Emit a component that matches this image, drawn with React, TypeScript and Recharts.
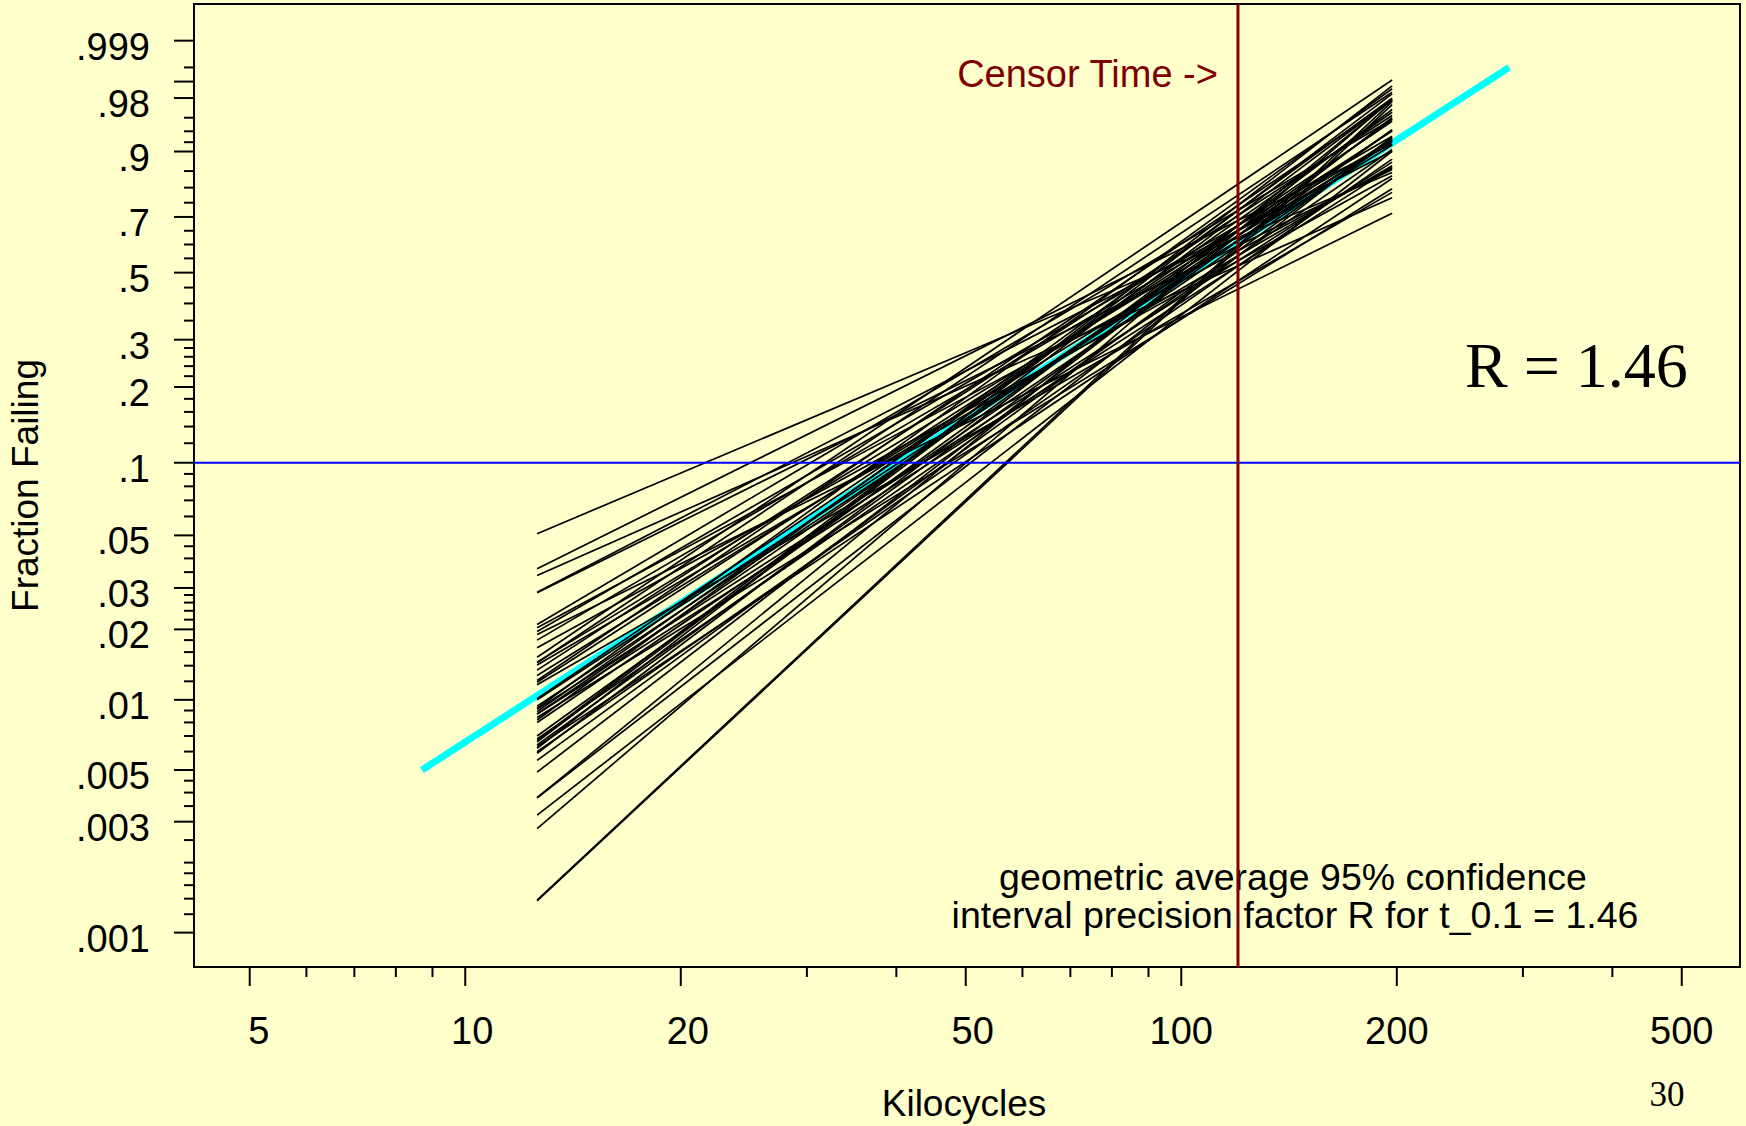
import { Line, LineChart, ReferenceArea, ReferenceLine, XAxis, YAxis } from 'recharts';

const SANS = '"Liberation Sans", Arial, Helvetica, sans-serif';
const SERIF = '"Liberation Serif", "Times New Roman", serif';

// fitted Weibull lines, drawn between first and last failure time (kilocycles)
const fitStartKc = 12.6;
const fitEndKc = 197;
const fitStartFrac = [
  0.0508, 0.0362, 0.0339, 0.0288, 0.0286, 0.021, 0.0203, 0.0196, 0.019, 0.018, 0.0167, 0.0152,
  0.0145, 0.0141, 0.0134, 0.0127, 0.0121, 0.0116, 0.0101, 0.0094, 0.0092, 0.0091, 0.0089, 0.0087,
  0.0084, 0.0082, 0.008, 0.007, 0.0068, 0.0066, 0.0064, 0.0062, 0.006, 0.0059, 0.0055, 0.0049,
  0.0038, 0.0038, 0.0032, 0.0028, 0.00137, 0.00138, 0.0144, 0.0087, 0.0067, 0.01, 0.0119, 0.0063,
];
const fitEndFrac = [
  0.8459, 0.9164, 0.7666, 0.9011, 0.8544, 0.9579, 0.8589, 0.9313, 0.7135, 0.9233, 0.8365, 0.9907,
  0.9207, 0.8647, 0.9627, 0.9141, 0.9777, 0.7847, 0.9552, 0.9273, 0.9863, 0.8742, 0.9665, 0.9417,
  0.7965, 0.9798, 0.9227, 0.9579, 0.9045, 0.9788, 0.9426, 0.9879, 0.8819, 0.9696, 0.9266, 0.96,
  0.9302, 0.9788, 0.9006, 0.9789, 0.9744, 0.9771, 0.9841, 0.8602, 0.983, 0.9252, 0.9403, 0.8285,
];

// average fit (cyan)
const avgFitKc = [8.7, 287];
const avgFitFrac = [0.005, 0.995];

const censorKc = 120;
const targetFrac = 0.1;

const xDomain = [4.18, 603];
const xMajor = [5, 10, 20, 50, 100, 200, 500];
const xMinor = [6, 7, 8, 9, 30, 40, 60, 70, 80, 90, 300, 400];

const yLabeled = [0.001, 0.003, 0.005, 0.01, 0.02, 0.03, 0.05, 0.1, 0.2, 0.3, 0.5, 0.7, 0.9, 0.98, 0.999];
const yLabels = ['.001', '.003', '.005', '.01', '.02', '.03', '.05', '.1', '.2', '.3', '.5', '.7', '.9', '.98', '.999'];
const yLongUnlabeled = [0.99];
const yMinor = [
  0.0012, 0.0014, 0.0016, 0.0018, 0.002, 0.0025, 0.0035, 0.004, 0.0045, 0.006, 0.007, 0.008, 0.009,
  0.012, 0.014, 0.016, 0.018, 0.022, 0.024, 0.026, 0.028, 0.035, 0.04, 0.045, 0.06, 0.07, 0.08, 0.09,
  0.12, 0.14, 0.16, 0.18, 0.22, 0.24, 0.26, 0.28, 0.35, 0.4, 0.45, 0.55, 0.6, 0.65, 0.75, 0.8, 0.85,
  0.92, 0.94, 0.96, 0.995,
];

// Weibull probability scale
const weib = (p: number) => Math.log(-Math.log(1 - p));
const yDomain = [-7.248, 2.296];

const yTickInfo = [
  ...yLabeled.map((p, i) => ({ w: weib(p), long: true, label: yLabels[i] })),
  ...yLongUnlabeled.map(p => ({ w: weib(p), long: true, label: '' })),
  ...yMinor.map(p => ({ w: weib(p), long: false, label: '' })),
];

function YTick({ x, y, payload }: any) {
  const t = yTickInfo.find(d => Math.abs(d.w - payload.value) < 1e-9);
  if (!t) return null;
  return (
    <g>
      <line x1={x - (t.long ? 20 : 10)} x2={x} y1={y} y2={y} stroke="#000" strokeWidth={2} />
      {t.label && (
        <text x={x - 44} y={y + 19} textAnchor="end" fontSize={38} fontFamily={SANS} fill="#000">
          {t.label}
        </text>
      )}
    </g>
  );
}

function XTick({ x, y, payload }: any) {
  const major = xMajor.includes(payload.value);
  const label = String(payload.value);
  const shift = label.length === 1 ? 9 : label.length === 2 ? 7 : 0;
  return (
    <g>
      <line x1={x} x2={x} y1={y} y2={y + (major ? 19 : 10)} stroke="#000" strokeWidth={2} />
      {major && (
        <text x={x + shift} y={y + 77} textAnchor="middle" fontSize={38} fontFamily={SANS} fill="#000">
          {label}
        </text>
      )}
    </g>
  );
}

const yTitle = ({ viewBox }: any) => (
  <text
    transform={`translate(${viewBox.x + 38},${viewBox.y + viewBox.height / 2}) rotate(-90)`}
    textAnchor="middle"
    fontSize={37}
    fontFamily={SANS}
    fill="#000"
  >
    Fraction Failing
  </text>
);

const xTitle = ({ viewBox }: any) => (
  <text x={viewBox.x + viewBox.width / 2 - 3} y={viewBox.y + 149} textAnchor="middle" fontSize={37} fontFamily={SANS} fill="#000">
    Kilocycles
  </text>
);

const censorLabel = ({ viewBox }: any) => (
  <text x={viewBox.x - 20} y={viewBox.y + 83} textAnchor="end" fontSize={38} fontFamily={SANS} fill="#800000">
    {'Censor Time ->'}
  </text>
);

const frameNotes = ({ viewBox }: any) => {
  const { x, y } = viewBox;
  return (
    <g>
      <text x={x + 1271} y={y + 383} fontSize={64} fontFamily={SERIF} fill="#000">
        R = 1.46
      </text>
      <text x={x + 1099} y={y + 886} textAnchor="middle" fontSize={37.5} fontFamily={SANS} fill="#000">
        geometric average 95% confidence
      </text>
      <text x={x + 1101} y={y + 924} textAnchor="middle" fontSize={37.5} fontFamily={SANS} fill="#000">
        interval precision factor R for t_0.1 = 1.46
      </text>
      <text x={x + 1473} y={y + 1102} textAnchor="middle" fontSize={35} fontFamily={SERIF} fill="#000">
        30
      </text>
    </g>
  );
};

export default function App() {
  const avgData = avgFitKc.map((kc, i) => ({ kc, w: weib(avgFitFrac[i]) }));
  const fits = fitStartFrac.map((p, i) => [
    { kc: fitStartKc, w: weib(p) },
    { kc: fitEndKc, w: weib(fitEndFrac[i]) },
  ]);

  return (
    <div style={{ position: 'absolute', left: 0, top: 0, width: 1746, height: 1126, background: '#FFFFCC' }}>
      <LineChart width={1746} height={1126} margin={{ top: 4, right: 6, bottom: 0, left: 0 }}>
        <XAxis
          type="number"
          dataKey="kc"
          scale="log"
          domain={xDomain}
          allowDataOverflow
          ticks={[...xMajor, ...xMinor].sort((a, b) => a - b)}
          interval={0}
          tick={<XTick />}
          tickLine={false}
          axisLine={false}
          tickSize={0}
          tickMargin={0}
          height={159}
          label={xTitle}
        />
        <YAxis
          type="number"
          dataKey="w"
          domain={yDomain}
          allowDataOverflow
          ticks={yTickInfo.map(t => t.w).sort((a, b) => a - b)}
          interval={0}
          tick={<YTick />}
          tickLine={false}
          axisLine={false}
          tickSize={0}
          tickMargin={0}
          width={194}
          label={yTitle}
        />
        <ReferenceArea
          x1={xDomain[0]}
          x2={xDomain[1]}
          y1={yDomain[0]}
          y2={yDomain[1]}
          fill="none"
          stroke="#000"
          strokeWidth={2}
          ifOverflow="visible"
          label={frameNotes}
        />
        <Line
          data={avgData}
          dataKey="w"
          stroke="#00FFFF"
          strokeWidth={7}
          dot={false}
          activeDot={false}
          isAnimationActive={false}
        />
        {fits.map((d, i) => (
          <Line
            key={i}
            data={d}
            dataKey="w"
            stroke="#000"
            strokeWidth={1.7}
            dot={false}
            activeDot={false}
            isAnimationActive={false}
          />
        ))}
        <ReferenceLine y={weib(targetFrac)} stroke="#0000FF" strokeWidth={2} />
        <ReferenceLine x={censorKc} stroke="#800000" strokeWidth={3} label={censorLabel} />
      </LineChart>
    </div>
  );
}
